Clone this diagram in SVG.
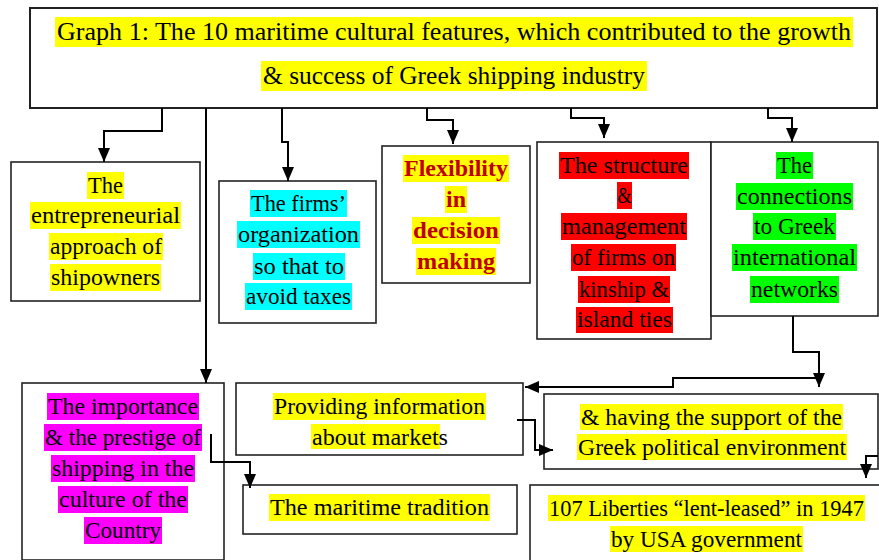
<svg xmlns="http://www.w3.org/2000/svg" width="879" height="560" viewBox="0 0 879 560">
<style>
.box{fill:#fff;stroke:#222;stroke-width:1.6}
.tbox{fill:#fff;stroke:#222;stroke-width:2}
.y{fill:#ffff00}.c{fill:#00ffff}.r{fill:#ff0000}.g{fill:#00ff00}.m{fill:#ff00ff}
.t{font-family:"Liberation Serif","Times New Roman",serif;font-size:23px;fill:#000}
.tt{font-family:"Liberation Serif","Times New Roman",serif;font-size:25px;fill:#000}
.b{font-weight:bold;fill:#c00000}
.con{fill:none;stroke:#000;stroke-width:2}
</style>
<defs>
<marker id="ah" viewBox="0 0 14 12" markerWidth="14" markerHeight="12" refX="14" refY="6" orient="auto" markerUnits="userSpaceOnUse">
<path d="M0,0 L14,6 L0,12 z" fill="#000"/>
</marker>
</defs>
<rect width="879" height="560" fill="#fff"/>

<g id="title">
<rect class="tbox" x="30" y="8" width="847" height="100"/>
<rect class="y" x="55" y="17" width="798" height="30"/>
<rect class="y" x="261" y="61" width="386" height="30"/>
<text class="tt" x="454" y="40" text-anchor="middle" textLength="794" lengthAdjust="spacingAndGlyphs">Graph 1: The 10 maritime cultural features, which contributed to the growth</text>
<text class="tt" x="454" y="84" text-anchor="middle" textLength="382" lengthAdjust="spacingAndGlyphs">&amp; success of Greek shipping industry</text>
</g>

<g id="entrepreneurial">
<rect class="box" x="11" y="162" width="189" height="139"/>
<rect class="y" x="87" y="172" width="37" height="27"/>
<rect class="y" x="30" y="202" width="151" height="27"/>
<rect class="y" x="49" y="233" width="114" height="27"/>
<rect class="y" x="50" y="264" width="111" height="27"/>
<text class="t" x="105.5" y="193" text-anchor="middle" textLength="35" lengthAdjust="spacingAndGlyphs">The</text>
<text class="t" x="105.5" y="223" text-anchor="middle" textLength="149" lengthAdjust="spacingAndGlyphs">entrepreneurial</text>
<text class="t" x="106" y="254" text-anchor="middle" textLength="112" lengthAdjust="spacingAndGlyphs">approach of</text>
<text class="t" x="105.5" y="285" text-anchor="middle" textLength="109" lengthAdjust="spacingAndGlyphs">shipowners</text>
</g>

<g id="firms">
<rect class="box" x="219" y="181" width="157" height="142"/>
<rect class="c" x="250" y="190" width="97" height="27"/>
<rect class="c" x="237" y="221" width="123" height="27"/>
<rect class="c" x="253" y="253" width="92" height="27"/>
<rect class="c" x="245" y="283" width="107" height="27"/>
<text class="t" x="298.5" y="211" text-anchor="middle" textLength="95" lengthAdjust="spacingAndGlyphs">The firms’</text>
<text class="t" x="298.5" y="242" text-anchor="middle" textLength="121" lengthAdjust="spacingAndGlyphs">organization</text>
<text class="t" x="299" y="274" text-anchor="middle" textLength="90" lengthAdjust="spacingAndGlyphs">so that to</text>
<text class="t" x="298.5" y="304" text-anchor="middle" textLength="105" lengthAdjust="spacingAndGlyphs">avoid taxes</text>
</g>

<g id="flexibility">
<rect class="box" x="382" y="146" width="148" height="137"/>
<rect class="y" x="403" y="155" width="106" height="27"/>
<rect class="y" x="445" y="186" width="22" height="27"/>
<rect class="y" x="412" y="217" width="88" height="27"/>
<rect class="y" x="416" y="248" width="80" height="27"/>
<text class="t b" x="456" y="176" text-anchor="middle" textLength="104" lengthAdjust="spacingAndGlyphs">Flexibility</text>
<text class="t b" x="456" y="207" text-anchor="middle" textLength="20" lengthAdjust="spacingAndGlyphs">in</text>
<text class="t b" x="456" y="238" text-anchor="middle" textLength="86" lengthAdjust="spacingAndGlyphs">decision</text>
<text class="t b" x="456" y="269" text-anchor="middle" textLength="78" lengthAdjust="spacingAndGlyphs">making</text>
</g>

<g id="structure">
<rect class="box" x="537" y="142" width="174" height="197"/>
<rect class="r" x="559" y="152" width="130" height="27"/>
<rect class="r" x="617" y="182" width="15" height="27"/>
<rect class="r" x="561" y="213" width="126" height="27"/>
<rect class="r" x="571" y="244" width="105" height="27"/>
<rect class="r" x="578" y="276" width="92" height="27"/>
<rect class="r" x="576" y="307" width="97" height="26"/>
<text class="t" x="624" y="173" text-anchor="middle" textLength="128" lengthAdjust="spacingAndGlyphs">The structure</text>
<text class="t" x="624.5" y="203" text-anchor="middle" textLength="14" lengthAdjust="spacingAndGlyphs">&amp;</text>
<text class="t" x="624" y="234" text-anchor="middle" textLength="124" lengthAdjust="spacingAndGlyphs">management</text>
<text class="t" x="623.5" y="265" text-anchor="middle" textLength="103" lengthAdjust="spacingAndGlyphs">of firms on</text>
<text class="t" x="624" y="297" text-anchor="middle" textLength="90" lengthAdjust="spacingAndGlyphs">kinship &amp;</text>
<text class="t" x="624.5" y="327" text-anchor="middle" textLength="95" lengthAdjust="spacingAndGlyphs">island ties</text>
</g>

<g id="connections">
<rect class="box" x="711" y="142" width="167" height="174"/>
<rect class="g" x="776" y="152" width="37" height="27"/>
<rect class="g" x="736" y="183" width="117" height="27"/>
<rect class="g" x="753" y="213" width="83" height="27"/>
<rect class="g" x="732" y="244" width="125" height="27"/>
<rect class="g" x="750" y="276" width="89" height="27"/>
<text class="t" x="794.5" y="173" text-anchor="middle" textLength="35" lengthAdjust="spacingAndGlyphs">The</text>
<text class="t" x="794.5" y="204" text-anchor="middle" textLength="115" lengthAdjust="spacingAndGlyphs">connections</text>
<text class="t" x="794.5" y="234" text-anchor="middle" textLength="81" lengthAdjust="spacingAndGlyphs">to Greek</text>
<text class="t" x="794.5" y="265" text-anchor="middle" textLength="123" lengthAdjust="spacingAndGlyphs">international</text>
<text class="t" x="794.5" y="297" text-anchor="middle" textLength="87" lengthAdjust="spacingAndGlyphs">networks</text>
</g>

<g id="importance">
<rect class="box" x="22" y="383" width="202" height="177"/>
<rect class="m" x="47" y="393" width="152" height="27"/>
<rect class="m" x="44" y="424" width="158" height="27"/>
<rect class="m" x="51" y="455" width="144" height="27"/>
<rect class="m" x="58" y="486" width="130" height="27"/>
<rect class="m" x="84" y="517" width="78" height="27"/>
<text class="t" x="123" y="414" text-anchor="middle" textLength="150" lengthAdjust="spacingAndGlyphs">The importance</text>
<text class="t" x="123" y="445" text-anchor="middle" textLength="156" lengthAdjust="spacingAndGlyphs">&amp; the prestige of</text>
<text class="t" x="123" y="476" text-anchor="middle" textLength="142" lengthAdjust="spacingAndGlyphs">shipping in the</text>
<text class="t" x="123" y="507" text-anchor="middle" textLength="128" lengthAdjust="spacingAndGlyphs">culture of the</text>
<text class="t" x="123" y="538" text-anchor="middle" textLength="76" lengthAdjust="spacingAndGlyphs">Country</text>
</g>

<g id="providing">
<rect class="box" x="236" y="383" width="287" height="72"/>
<rect class="y" x="273" y="393" width="213" height="27"/>
<rect class="y" x="311" y="424" width="129" height="25"/>
<text class="t" x="379.5" y="414" text-anchor="middle" textLength="211" lengthAdjust="spacingAndGlyphs">Providing information</text>
<text class="t" x="312" y="445" textLength="136" lengthAdjust="spacingAndGlyphs">about markets</text>
</g>

<g id="maritime">
<rect class="box" x="243" y="485" width="274" height="49"/>
<rect class="y" x="269" y="494" width="221" height="27"/>
<text class="t" x="379.5" y="515" text-anchor="middle" textLength="219" lengthAdjust="spacingAndGlyphs">The maritime tradition</text>
</g>

<g id="political">
<rect class="box" x="544" y="394" width="334" height="75"/>
<rect class="y" x="580" y="404" width="263" height="26"/>
<rect class="y" x="577" y="434" width="270" height="26"/>
<text class="t" x="711.5" y="425" text-anchor="middle" textLength="261" lengthAdjust="spacingAndGlyphs">&amp; having the support of the</text>
<text class="t" x="712" y="455" text-anchor="middle" textLength="268" lengthAdjust="spacingAndGlyphs">Greek political environment</text>
</g>

<g id="liberties">
<rect class="box" x="530" y="485" width="360" height="90"/>
<rect class="y" x="548" y="495" width="317" height="26"/>
<rect class="y" x="610" y="526" width="193" height="26"/>
<text class="t" x="706.5" y="516" text-anchor="middle" textLength="315" lengthAdjust="spacingAndGlyphs">107 Liberties “lent-leased” in 1947</text>
<text class="t" x="706.5" y="547" text-anchor="middle" textLength="191" lengthAdjust="spacingAndGlyphs">by USA government</text>
</g>

<g id="connectors">
<path class="con" d="M162,108 V131 H104 V162" marker-end="url(#ah)"/>
<path class="con" d="M206,108 V383" marker-end="url(#ah)"/>
<path class="con" d="M282,108 V142 H288 V181" marker-end="url(#ah)"/>
<path class="con" d="M427,108 V120 H453 V144" marker-end="url(#ah)"/>
<path class="con" d="M571,108 V118 H604 V138" marker-end="url(#ah)"/>
<path class="con" d="M768,108 V118 H792 V142" marker-end="url(#ah)"/>
<path class="con" d="M793,316 V352 H819 V387" marker-end="url(#ah)"/>
<path class="con" d="M819,378 H673 V387 H525" marker-end="url(#ah)"/>
<path class="con" d="M517,420 H535 V450 H553" marker-end="url(#ah)"/>
<path class="con" d="M878,456 H866 V478" marker-end="url(#ah)"/>
<path class="con" d="M211,434 V462 H250 V488" marker-end="url(#ah)"/>
</g>
</svg>
